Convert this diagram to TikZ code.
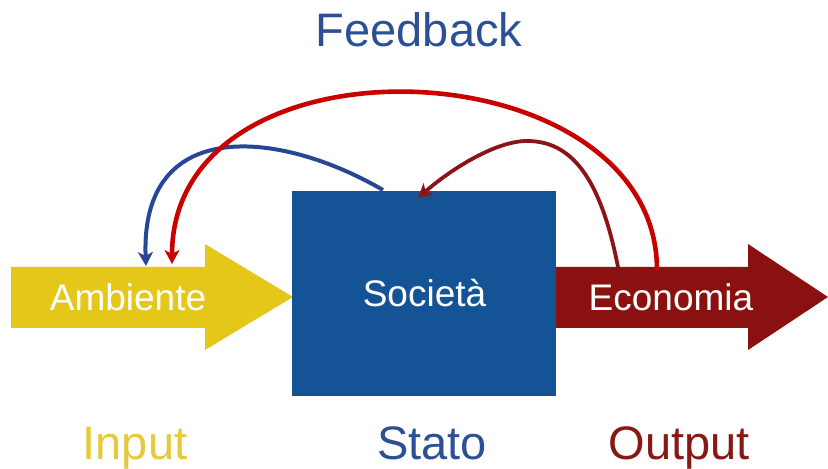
\documentclass[tikz,border=0pt]{standalone}
\usepackage{fontspec}
\setmainfont{Liberation Sans}
\usetikzlibrary{arrows.meta}
\definecolor{ambyellow}{RGB}{229,199,26}
\definecolor{inputyellow}{RGB}{230,202,60}
\definecolor{socblue}{RGB}{21,83,151}
\definecolor{fbblue}{RGB}{44,80,150}
\definecolor{ecored}{RGB}{139,17,17}
\definecolor{outred}{RGB}{135,25,20}
\definecolor{arcred}{RGB}{200,0,0}
\definecolor{arcblue}{RGB}{40,70,150}
\definecolor{arcdark}{RGB}{140,20,20}
\tikzset{
  bigtext/.style={inner sep=0pt, anchor=base, font=\fontsize{47bp}{50bp}\selectfont},
  intext/.style={inner sep=0pt, anchor=base, text=white, font=\fontsize{37bp}{40bp}\selectfont},
  fbarrow/.style={-{Stealth[length=14bp,width=15bp,inset=4bp]}, line cap=butt},
}
\begin{document}
\begin{tikzpicture}[x=1bp,y=-1bp]
\useasboundingbox (0,0) rectangle (828,469);
% input arrow
\fill[ambyellow] (11,267) -- (205,267) -- (205,244) -- (293,297) -- (205,350) -- (205,328) -- (11,328) -- cycle;
% output arrow
\fill[ecored] (556,267) -- (748,267) -- (748,244) -- (828,297) -- (748,350) -- (748,328) -- (556,328) -- cycle;
% society box
\node[fill=socblue, draw=none, minimum width=264bp, minimum height=205bp, inner sep=0pt] (soc) at (424,293.5) {};
\node[intext] (soctext) at (424.5,307) {Società};
\node[intext] (amb) at (128,311) {Ambiente};
\node[intext] (eco) at (671,311) {Economia};
% labels
\node[bigtext, text=fbblue] (fb) at (419,47) {Feedback};
\node[bigtext, text=inputyellow] (in) at (135,459) {Input};
\node[bigtext, text=fbblue] (st) at (432,459) {Stato};
\node[bigtext, text=outred] (out) at (679,459) {Output};
% connector ends
\coordinate (blueS) at (383,190);
\coordinate (blueE) at (146,266);
\coordinate (redS) at (657,270);
\coordinate (redE) at (172,264);
\coordinate (darkS) at (618,267);
\coordinate (darkP) at (527,141);
\coordinate (darkE) at (418,198);
% feedback arcs
\draw[fbarrow, arcblue, line width=4bp] (blueS) .. controls (280,130) and (140,115) .. (blueE);
\draw[fbarrow, arcred, line width=4.6bp] (redS) .. controls (657,45) and (172,25) .. (redE);
\draw[fbarrow, arcdark, line width=3.8bp] (darkS) .. controls (600,175) and (570,141) .. (darkP) .. controls (495,141) and (450,170) .. (darkE);
\end{tikzpicture}
\end{document}
